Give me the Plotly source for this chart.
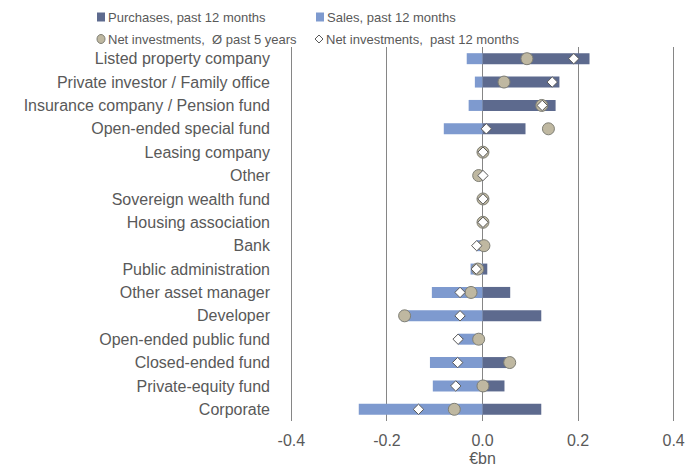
import plotly.graph_objects as go

# -- datos --
categorias = [
    "Listed property company", "Private investor / Family office",
    "Insurance company / Pension fund", "Open-ended special fund",
    "Leasing company", "Other", "Sovereign wealth fund", "Housing association",
    "Bank", "Public administration", "Other asset manager", "Developer",
    "Open-ended public fund", "Closed-ended fund", "Private-equity fund", "Corporate",
]
compras_12m = [0.224, 0.161, 0.153, 0.090, 0.0, 0.0, 0.0, 0.0,
               0.0, 0.010, 0.058, 0.123, 0.0, 0.057, 0.046, 0.123]
ventas_12m = [-0.033, -0.016, -0.029, -0.081, 0.0, 0.0, 0.0, 0.0,
              -0.012, -0.025, -0.106, -0.170, -0.051, -0.110, -0.104, -0.259]
neto_5a = [0.093, 0.045, 0.124, 0.138, 0.001, -0.008, 0.001, 0.001,
           0.003, -0.010, -0.024, -0.163, -0.008, 0.057, 0.001, -0.059]
neto_12m = [0.191, 0.146, 0.125, 0.008, 0.001, 0.001, 0.001, 0.001,
            -0.012, -0.013, -0.047, -0.047, -0.051, -0.052, -0.056, -0.134]
x_ticks = [-0.4, -0.2, 0.0, 0.2, 0.4]
x_ticktext = ["-0.4", "-0.2", "0.0", "0.2", "0.4"]

# -- estilo --
# la página tiene un margen de 8 px en el body, se compensa aquí
OFF = 8
W, H = 697 - OFF, 467 - OFF
L, R, T, B = 289 - OFF, 21, 47 - OFF, 46
PW, PH = W - L - R, H - T - B
C_COMPRAS = "#5d6a8e"
C_VENTAS = "#7e9acf"
C_CIRC = "#bfb8a1"
C_TXT = "#595959"
FUENTE = "Liberation Sans, Arial, sans-serif"


def px_x(p):
    # píxel de la imagen -> coordenada paper
    return (p - OFF - L) / PW


def px_y(p):
    return (H - B - (p - OFF)) / PH


fig = go.Figure()
fig.add_trace(go.Bar(y=categorias, x=compras_12m, orientation="h", width=0.47,
                     marker_color=C_COMPRAS, marker_line_width=0, showlegend=False))
fig.add_trace(go.Bar(y=categorias, x=ventas_12m, orientation="h", width=0.47,
                     marker_color=C_VENTAS, marker_line_width=0, showlegend=False))
fig.add_trace(go.Scatter(y=categorias, x=neto_5a, mode="markers", showlegend=False,
                         marker=dict(symbol="circle", size=12, color=C_CIRC,
                                     line=dict(color="#7f7f75", width=1))))
fig.add_trace(go.Scatter(y=categorias, x=neto_12m, mode="markers", showlegend=False,
                         marker=dict(symbol="diamond", size=8, color="white",
                                     line=dict(color="#595959", width=1))))

# leyenda manual (2 x 2)
shapes = []
annotations = []
leyenda = [
    ("rect", C_COMPRAS, 101, 17, "Purchases, past 12 months"),
    ("rect", C_VENTAS, 320, 17, "Sales, past 12 months"),
    ("circle", C_CIRC, 101, 39, "Net investments,  Ø past 5 years"),
    ("diamond", "white", 319, 39, "Net investments,  past 12 months"),
]
for tipo, color, cx, cy, texto in leyenda:
    if tipo == "rect":
        shapes.append(dict(type="rect", xref="paper", yref="paper",
                           x0=px_x(cx - 4), x1=px_x(cx + 4), y0=px_y(cy + 4.5), y1=px_y(cy - 4.5),
                           fillcolor=color, line_width=0))
    elif tipo == "circle":
        shapes.append(dict(type="circle", xref="paper", yref="paper",
                           x0=px_x(cx - 4), x1=px_x(cx + 4), y0=px_y(cy + 4.5), y1=px_y(cy - 4.5),
                           fillcolor=color, line=dict(color="#7f7f75", width=1)))
    else:
        shapes.append(dict(type="path", xref="paper", yref="paper",
                           path="M {} {} L {} {} L {} {} L {} {} Z".format(
                               px_x(cx), px_y(cy - 4), px_x(cx + 4), px_y(cy),
                               px_x(cx), px_y(cy + 4), px_x(cx - 4), px_y(cy)),
                           fillcolor=color, line=dict(color="#595959", width=1)))
    annotations.append(dict(text=texto, xref="paper", yref="paper", x=px_x(cx + 5), y=px_y(cy + 0.5),
                            xanchor="left", yanchor="middle", showarrow=False,
                            font=dict(family=FUENTE, size=13, color=C_TXT)))

fig.update_layout(
    width=W, height=H,
    margin=dict(l=L, r=R, t=T, b=B, autoexpand=False),
    barmode="overlay",
    plot_bgcolor="white", paper_bgcolor="white",
    font=dict(family=FUENTE, size=16, color=C_TXT),
    shapes=shapes, annotations=annotations,
    xaxis=dict(range=[-0.405, 0.405], tickvals=x_ticks, ticktext=x_ticktext,
               showgrid=True, gridcolor="#868686", gridwidth=1,
               zeroline=True, zerolinecolor="#868686", zerolinewidth=1,
               ticks="", ticklabelstandoff=8, showline=False,
               title=dict(text="€bn", standoff=11, font=dict(size=16))),
    yaxis=dict(categoryorder="array", categoryarray=categorias, range=[15.5, -0.5],
               showgrid=False, zeroline=False, ticks="", ticklabelstandoff=18),
)

fig.write_html("out.html")
